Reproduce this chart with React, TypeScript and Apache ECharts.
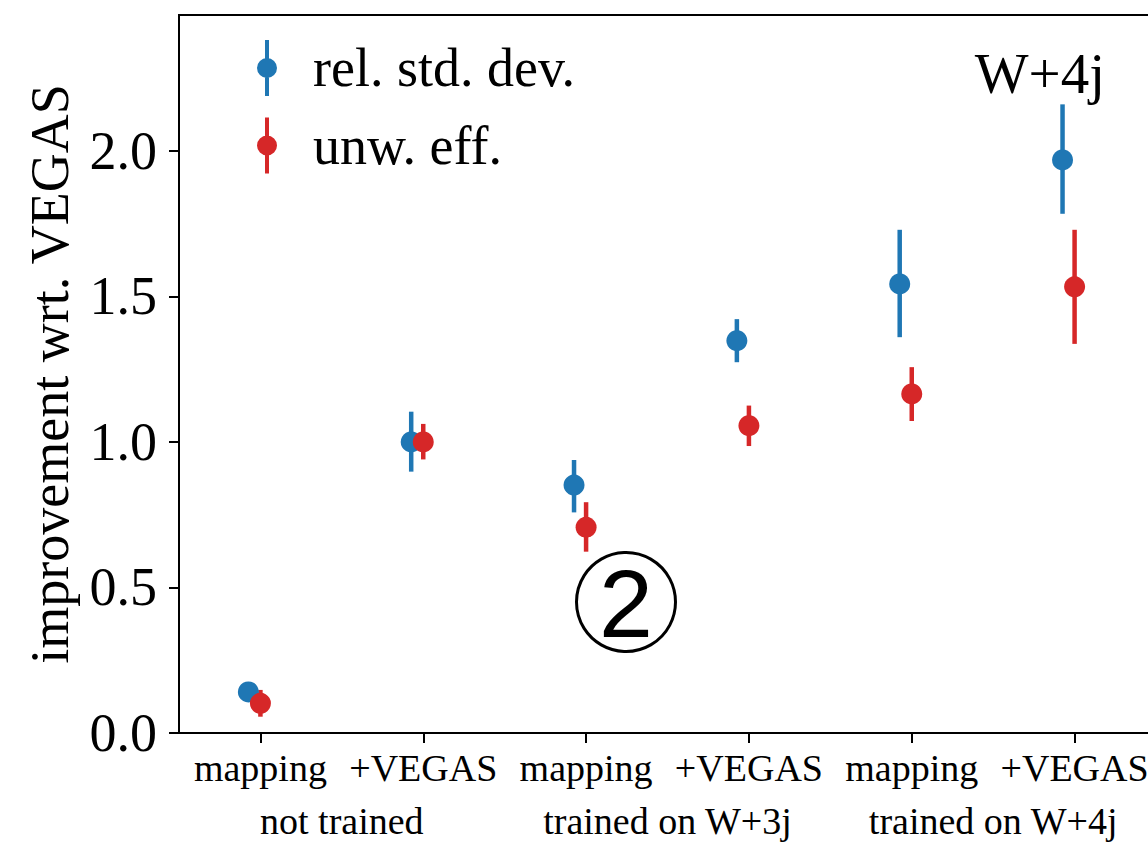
import React, { useEffect, useRef } from "react";
import * as echarts from "echarts";

// ---- data ----
const categories = ["mapping", "+VEGAS", "mapping", "+VEGAS", "mapping", "+VEGAS"];
const groupLabels = ["not trained", "trained on W+3j", "trained on W+4j"];
const yTicks = [0, 0.5, 1.0, 1.5, 2.0];

const relStd = [0.141, 1.0, 0.852, 1.348, 1.543, 1.969];
const relStdLo = [0.118, 0.898, 0.758, 1.274, 1.36, 1.784];
const relStdHi = [0.164, 1.104, 0.938, 1.422, 1.729, 2.16];

const unwEff = [0.102, 1.0, 0.707, 1.056, 1.165, 1.533];
const unwEffLo = [0.056, 0.94, 0.623, 0.986, 1.072, 1.337];
const unwEffHi = [0.148, 1.062, 0.793, 1.125, 1.257, 1.729];

const seriesNames = ["rel. std. dev.", "unw. eff."];
const BLUE = "#1f77b4";
const RED = "#d62728";
const blueShift = -0.074;
const SERIF = "'Liberation Serif', 'Times New Roman', serif";
const SANS = "'Liberation Sans', Arial, sans-serif";

const legendIcon =
  "path://M8,0 L12,0 L12,56 L8,56 Z M20,28 A10,10 0 1,1 0,28 A10,10 0 1,1 20,28 Z";

function errSeries(name: string, xs: number[], lo: number[], hi: number[], color: string) {
  return {
    type: "custom",
    name,
    xAxisIndex: 0,
    yAxisIndex: 0,
    silent: true,
    data: xs.map((x, i) => [x, lo[i], hi[i]]),
    encode: { x: 0, y: [1, 2] },
    renderItem: (_params: any, api: any) => {
      const x = api.value(0);
      const p1 = api.coord([x, api.value(1)]);
      const p2 = api.coord([x, api.value(2)]);
      return {
        type: "line",
        shape: { x1: p1[0], y1: p1[1], x2: p2[0], y2: p2[1] },
        style: { stroke: color, lineWidth: 4.5 },
      };
    },
  };
}

export default function App() {
  const ref = useRef<HTMLDivElement>(null);
  useEffect(() => {
    if (!ref.current) return;
    const chart = echarts.init(ref.current, undefined, { renderer: "svg" });
    const idx = categories.map((_, i) => i);
    const blueX = idx.map((i) => i + blueShift);
    const redX = idx.map((i) => i);
    chart.setOption({
      animation: false,
      backgroundColor: "#ffffff",
      grid: {
        left: 179,
        top: 15,
        width: 977,
        height: 718,
        show: true,
        borderColor: "#000",
        borderWidth: 2,
        backgroundColor: "transparent",
        outerBoundsMode: "none",
        containLabel: false,
      },
      legend: {
        orient: "vertical",
        left: 252,
        top: 35,
        itemWidth: 20,
        itemHeight: 56,
        itemGap: 21.5,
        selectedMode: false,
        textStyle: {
          fontSize: 54,
          fontFamily: SERIF,
          color: "#000",
          padding: [0, 0, 0, 31],
        },
        data: seriesNames.map((n) => ({ name: n, icon: legendIcon })),
      },
      xAxis: [
        {
          type: "value",
          min: -0.5,
          max: 5.5,
          show: false,
          gridIndex: 0,
        },
        {
          type: "category",
          data: categories,
          gridIndex: 0,
          position: "bottom",
          boundaryGap: true,
          axisLine: { show: true, onZero: false, lineStyle: { color: "#000", width: 2 } },
          axisTick: {
            show: true,
            alignWithLabel: true,
            length: 10,
            lineStyle: { color: "#000", width: 2 },
          },
          axisLabel: {
            interval: 0,
            margin: 16,
            fontSize: 38,
            fontFamily: SERIF,
            color: "#000",
          },
          splitLine: { show: false },
        },
        {
          type: "category",
          data: groupLabels,
          gridIndex: 0,
          position: "bottom",
          boundaryGap: true,
          axisLine: { show: false, onZero: false },
          axisTick: { show: false },
          axisLabel: {
            interval: 0,
            margin: 69,
            fontSize: 38,
            fontFamily: SERIF,
            color: "#000",
          },
          splitLine: { show: false },
        },
      ],
      yAxis: {
        type: "value",
        min: 0,
        max: 2.467,
        interval: 0.5,
        name: "improvement wrt. VEGAS",
        nameLocation: "middle",
        nameRotate: 90,
        nameGap: 102,
        nameTextStyle: { fontSize: 54, fontFamily: SERIF, color: "#000" },
        axisLine: { show: true, onZero: false, lineStyle: { color: "#000", width: 2 } },
        axisTick: {
          show: true,
          length: 10,
          lineStyle: { color: "#000", width: 2 },
          customValues: yTicks,
        },
        axisLabel: {
          margin: 22,
          fontSize: 54,
          fontFamily: SERIF,
          color: "#000",
          customValues: yTicks,
          formatter: (v: number) => v.toFixed(1),
        },
        splitLine: { show: false },
      },
      graphic: [
        {
          type: "text",
          x: 1105,
          y: 73,
          silent: true,
          style: {
            text: "W+4j",
            fontSize: 57,
            fontFamily: SERIF,
            fill: "#000",
            textAlign: "right",
            textVerticalAlign: "middle",
          },
        },
        {
          type: "circle",
          silent: true,
          shape: { cx: 626, cy: 602, r: 49.5 },
          style: { fill: "none", stroke: "#000", lineWidth: 3 },
        },
        {
          type: "text",
          x: 626,
          y: 603,
          silent: true,
          style: {
            text: "2",
            fontSize: 97,
            fontFamily: SANS,
            fill: "#000",
            textAlign: "center",
            textVerticalAlign: "middle",
          },
        },
      ],
      series: [
        errSeries("rel. std. dev. err", blueX, relStdLo, relStdHi, BLUE),
        {
          type: "scatter",
          name: seriesNames[0],
          xAxisIndex: 0,
          yAxisIndex: 0,
          symbol: "circle",
          symbolSize: 21,
          silent: true,
          itemStyle: { color: BLUE, opacity: 1 },
          data: blueX.map((x, i) => [x, relStd[i]]),
        },
        errSeries("unw. eff. err", redX, unwEffLo, unwEffHi, RED),
        {
          type: "scatter",
          name: seriesNames[1],
          xAxisIndex: 0,
          yAxisIndex: 0,
          symbol: "circle",
          symbolSize: 21,
          silent: true,
          itemStyle: { color: RED, opacity: 1 },
          data: redX.map((x, i) => [x, unwEff[i]]),
        },
      ],
    });
    return () => chart.dispose();
  }, []);
  return (
    <div
      ref={ref}
      style={{ position: "absolute", left: 0, top: 0, width: 1148, height: 846 }}
    />
  );
}
